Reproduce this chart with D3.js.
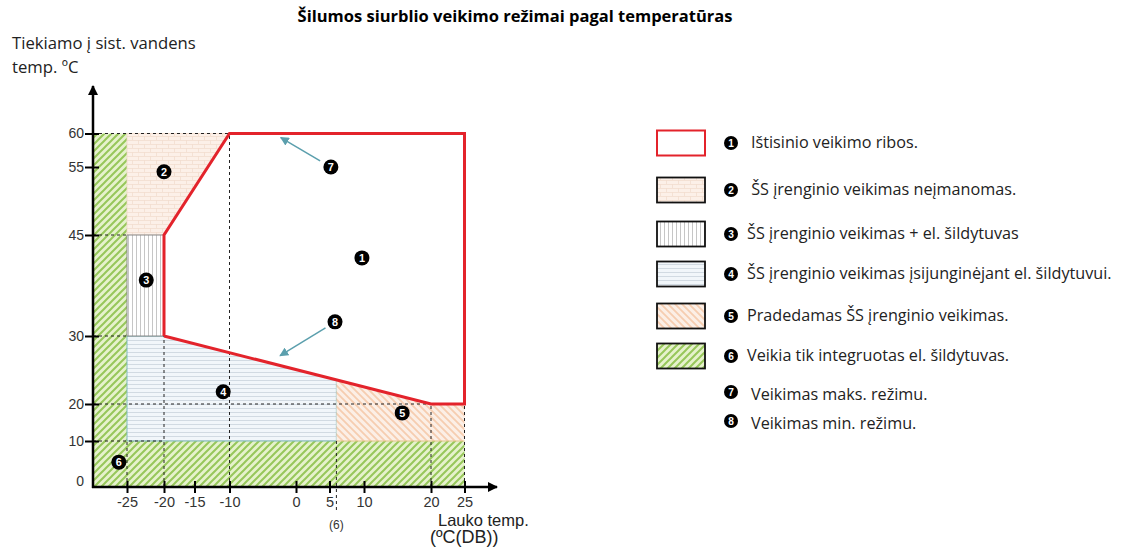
<!DOCTYPE html>
<html><head><meta charset="utf-8">
<script src="https://cdn.jsdelivr.net/npm/d3@7"></script>
<style>
body{margin:0;background:#fff;}
svg{display:block;}
</style></head>
<body>
<svg id="c" width="1131" height="549"></svg>
<script>
// ---------- data ----------
const title = "Šilumos siurblio veikimo režimai pagal temperatūras";
const yLabel = ["Tiekiamo į sist. vandens", "temp. ºC"];
const xLabel = ["Lauko temp.", "(ºC(DB))"];
const xTicks = [-25, -20, -15, -10, 0, 5, 10, 20, 25];
const yTicks = [0, 10, 20, 30, 45, 55, 60];
const xBreaks = [-30, -25, -20, -15, -10, 0, 5, 10, 20, 25, 30];
const yBreaks = [0, 10, 20, 30, 45, 55, 60];
// operating regions (outdoor temp, water temp)
const region6 = [[-30,0],[-30,60],[-25,60],[-25,10],[25,10],[25,0]];
const region2 = [[-25,60],[-10,60],[-20,45],[-25,45]];
const region3 = [[-25,45],[-20,45],[-20,30],[-25,30]];
const region4 = [[-25,30],[-20,30],[6,23.5],[6,10],[-25,10]];
const region5 = [[6,23.5],[20,20],[25,20],[25,10],[6,10]];
const envelope = [[-20,30],[-20,45],[-10,60],[25,60],[25,20],[20,20],[-20,30]];
const hDashes = [[60,-30,-10],[45,-30,-25],[30,-30,-25],[20,-30,25],[10,-30,-20]];
const vDashes = [[-25,0,10],[-20,0,30],[-10,0,60],[6,-5,10],[20,0,20],[25,0,20]];
const markers = [
  {n:1,x:9.7,y:41.6},{n:2,x:-20,y:54.3},{n:3,x:-22.4,y:38.3},{n:4,x:-10.9,y:21.8},
  {n:5,x:15.7,y:17.6},{n:6,x:-26.2,y:5.4},{n:7,x:5.2,y:55},{n:8,x:5.8,y:32.1}];
const pointers = [
  {from:[3.6,55.9], to:[-2.3,59.4]},
  {from:[4.4,31.2], to:[-2.4,27.1]}];
const legendLabels = [
  "Ištisinio veikimo ribos.",
  " ŠS įrenginio veikimas neįmanomas.",
  "ŠS įrenginio veikimas + el. šildytuvas",
  "ŠS įrenginio veikimas įsijunginėjant el. šildytuvui.",
  "Pradedamas ŠS įrenginio veikimas.",
  "Veikia tik integruotas el. šildytuvas.",
  "Veikimas maks. režimu.",
  "Veikimas min. režimu."];
const legendFills = ["none","url(#pBrick)","url(#pVert)","url(#pHoriz)","url(#pOrange)","url(#pGreen)",null,null];

// ---------- drawing ----------
const svg = d3.select("#c");
const FONT = "'Open Sans', Lato, sans-serif";
const AXFONT = "'Liberation Sans', Arial, sans-serif";

const x = d3.scaleLinear().domain(xBreaks).range([93,127,164,194.5,229.5,296,329.5,364,431,464.5,497]);
const y = d3.scaleLinear().domain(yBreaks).range([487,441,404,336,235,167,133.5]);

const defs = svg.append("defs");
function pat(id, size, bg, draw){
  const p = defs.append("pattern").attr("id",id).attr("patternUnits","userSpaceOnUse")
    .attr("width",size).attr("height",size);
  p.append("rect").attr("width",size).attr("height",size).attr("fill",bg);
  draw(p);
}
pat("pGreen", 7, "#e6f2cc", p=>{
  p.append("path").attr("d","M-1,8 L8,-1 M-2,2 L2,-2 M5,9 L9,5").attr("stroke","#97c75a").attr("stroke-width",2);
});
pat("pOrange", 7, "#fcefe6", p=>{
  p.append("path").attr("d","M-1,-1 L8,8 M-2,5 L2,9 M5,-2 L9,2").attr("stroke","#f6cdb0").attr("stroke-width",1.8);
});
pat("pVert", 4, "#ffffff", p=>{
  p.append("line").attr("x1",0.5).attr("x2",0.5).attr("y1",0).attr("y2",4).attr("stroke","#b8b8b8").attr("stroke-width",0.8);
});
pat("pHoriz", 4, "#f1f6fa", p=>{
  p.append("line").attr("y1",0.5).attr("y2",0.5).attr("x1",0).attr("x2",4).attr("stroke","#c9d3dc").attr("stroke-width",0.8);
});
{
  const p = defs.append("pattern").attr("id","pBrick").attr("patternUnits","userSpaceOnUse").attr("width",12).attr("height",8);
  p.append("rect").attr("width",12).attr("height",8).attr("fill","#fcf0e8");
  p.append("path").attr("d","M0,0.5 H12 M0,4.5 H12 M0.5,0 V4 M6.5,4 V8").attr("stroke","#f3ddcf").attr("stroke-width",0.8).attr("fill","none");
}
defs.append("marker").attr("id","arrT").attr("viewBox","0 0 10 10").attr("refX",9).attr("refY",5)
  .attr("markerWidth",9).attr("markerHeight",9).attr("orient","auto").attr("markerUnits","userSpaceOnUse")
  .append("path").attr("d","M0,0 L10,5 L0,10 Z").attr("fill","#5b9fad");
defs.append("marker").attr("id","arrK").attr("viewBox","0 0 10 10").attr("refX",9).attr("refY",5)
  .attr("markerWidth",10).attr("markerHeight",10).attr("orient","auto").attr("markerUnits","userSpaceOnUse")
  .append("path").attr("d","M0,0 L10,5 L0,10 Z").attr("fill","#000");

const line = d3.line().x(d=>x(d[0])).y(d=>y(d[1]));
const poly = pts => line(pts) + "Z";

svg.append("path").attr("d",poly(region6)).attr("fill","url(#pGreen)").attr("stroke","none");
svg.append("path").attr("d",poly(region2)).attr("fill","url(#pBrick)").attr("stroke","#f0d8c8").attr("stroke-width",0.8);
svg.append("path").attr("d",poly(region4)).attr("fill","url(#pHoriz)").attr("stroke","#7fbcbc").attr("stroke-width",1);
svg.append("path").attr("d",poly(region5)).attr("fill","url(#pOrange)").attr("stroke","none");
svg.append("line").attr("x1",x(6)).attr("x2",x(25)).attr("y1",y(10)).attr("y2",y(10)).attr("stroke","#e3c48a").attr("stroke-width",1);
svg.append("path").attr("d",poly(region3)).attr("fill","url(#pVert)").attr("stroke","#888").attr("stroke-width",1);

// dashed guides
const g = svg.append("g").attr("stroke","#222").attr("stroke-width",1).attr("stroke-dasharray","3,3");
hDashes.forEach(d=>g.append("line").attr("x1",x(d[1])).attr("x2",x(d[2])).attr("y1",y(d[0])).attr("y2",y(d[0])));
vDashes.forEach(d=>g.append("line").attr("x1",x(d[0])).attr("x2",x(d[0])).attr("y1",y(d[1])).attr("y2",y(d[2])));

// envelope
svg.append("path").attr("d",line(envelope)).attr("fill","none").attr("stroke","#e3232b").attr("stroke-width",3).attr("stroke-linejoin","miter");

// axes
const ax = svg.append("g");
ax.append("line").attr("x1",x(-30)).attr("x2",x(-30)).attr("y1",y(0)+1).attr("y2",86).attr("stroke","#000").attr("stroke-width",2.5).attr("marker-end","url(#arrK)");
ax.append("line").attr("x1",x(-30)-1).attr("x2",x(30)).attr("y1",y(0)).attr("y2",y(0)).attr("stroke","#000").attr("stroke-width",2.5).attr("marker-end","url(#arrK)");

const fmt = d => String(d);
const yAx = svg.append("g").attr("transform",`translate(${x(-30)},0)`)
  .call(d3.axisLeft(y).tickValues(yTicks).tickFormat(fmt).tickSize(0).tickPadding(9));
yAx.select(".domain").remove();
yAx.selectAll(".tick line").attr("x1",-8).attr("x2",6).attr("stroke","#000").attr("stroke-width",2);
yAx.selectAll(".tick text").attr("font-family",AXFONT).attr("font-size",14).attr("fill","#333")
  .attr("dy",(d)=> d===0 ? "-0.1em" : "0.32em");
yAx.selectAll(".tick").filter(d=>d===0).select("line").remove();

const xAx = svg.append("g").attr("transform",`translate(0,${y(0)})`)
  .call(d3.axisBottom(x).tickValues(xTicks).tickFormat(fmt).tickSize(0).tickPadding(10));
xAx.select(".domain").remove();
xAx.selectAll(".tick line").attr("y1",-6).attr("y2",6).attr("stroke","#000").attr("stroke-width",2);
xAx.selectAll(".tick text").attr("font-family",AXFONT).attr("font-size",14.5).attr("fill","#333");
svg.append("text").attr("x",x(6)).attr("y",y(-5)+19).attr("text-anchor","middle")
  .attr("font-family",AXFONT).attr("font-size",12).attr("fill","#333").text("(6)");

// pointers
pointers.forEach(p=>svg.append("line").attr("x1",x(p.from[0])).attr("y1",y(p.from[1]))
  .attr("x2",x(p.to[0])).attr("y2",y(p.to[1])).attr("stroke","#5b9fad").attr("stroke-width",1.5).attr("marker-end","url(#arrT)"));

// markers
function badge(sel, cx, cy, n, r){
  sel.append("circle").attr("cx",cx).attr("cy",cy).attr("r",r).attr("fill","#000");
  sel.append("text").attr("x",cx).attr("y",cy).attr("dy","0.36em").attr("text-anchor","middle")
    .attr("font-family",AXFONT).attr("font-weight","bold").attr("font-size",r*1.45).attr("fill","#fff").text(n);
}
markers.forEach(m=>badge(svg, x(m.x), y(m.y), m.n, 7.5));

// titles
svg.append("text").attr("x",515).attr("y",22).attr("text-anchor","middle").attr("font-family",FONT)
  .attr("font-weight","bold").attr("font-size",16.5).attr("fill","#000").text(title);
yLabel.forEach((t,i)=>svg.append("text").attr("x",12).attr("y",49+i*24).attr("font-family",FONT)
  .attr("font-size",16.7).attr("fill","#222").text(t));
svg.append("text").attr("x",438).attr("y",526).attr("font-family",AXFONT).attr("font-size",16.5).attr("fill","#222").text(xLabel[0]);
svg.append("text").attr("x",430).attr("y",543).attr("font-family",AXFONT).attr("font-size",18).attr("fill","#222").text(xLabel[1]);

// legend
const legRowsY = [143,190,234,274,316,356,395,424];
const lg = svg.append("g");
legendLabels.forEach((t,i)=>{
  const cy = legRowsY[i];
  if (legendFills[i] !== null){
    lg.append("rect").attr("x",657).attr("y",cy-12.5).attr("width",48).attr("height",25)
      .attr("fill", i===0 ? "#fff" : legendFills[i])
      .attr("stroke", i===0 ? "#e3232b" : "#111").attr("stroke-width", i===0 ? 2 : 1.8);
  }
  badge(lg, 731, cy - (i>=6 ? 3 : 0), i+1, 7);
  lg.append("text").attr("x",i>=6?751:(i===0?751:747)).attr("y",cy).attr("dy","0.33em").attr("font-family",FONT)
    .attr("font-size",16.2).attr("fill","#222").style("white-space","pre").text(t);
});
</script>
</body></html>
